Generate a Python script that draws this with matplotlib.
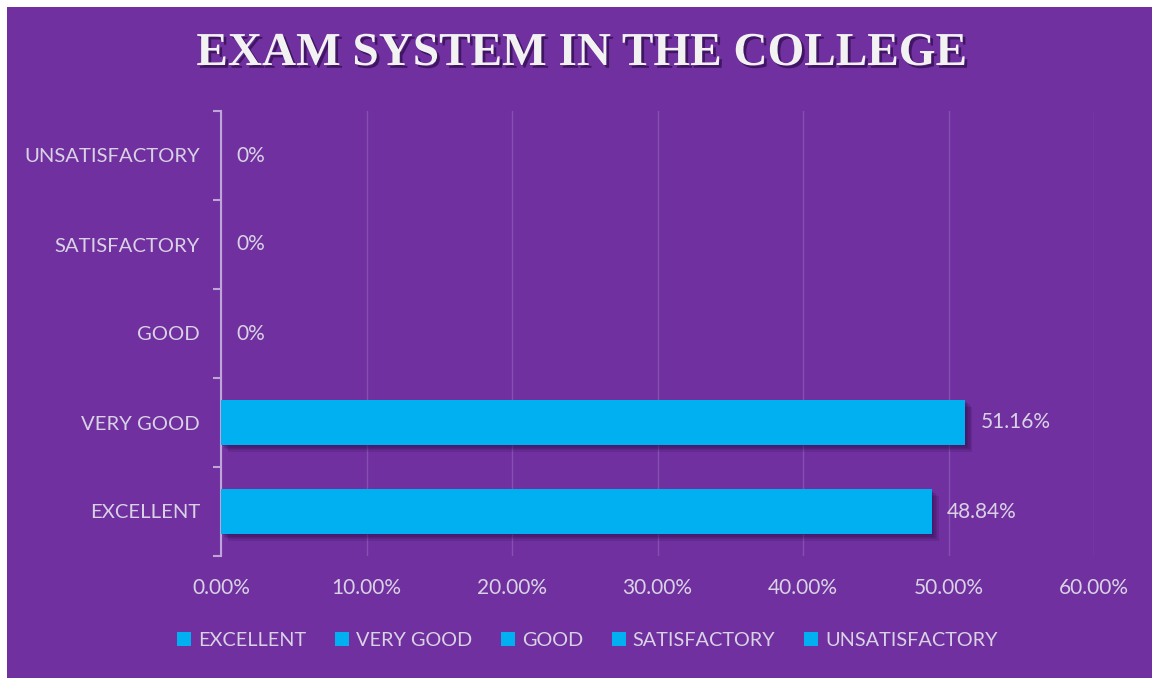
import matplotlib.pyplot as plt
import matplotlib.patheffects as pe
from matplotlib.patches import Rectangle, Patch
from matplotlib.ticker import FixedLocator, FuncFormatter

# data
categories = ["EXCELLENT", "VERY GOOD", "GOOD", "SATISFACTORY", "UNSATISFACTORY"]
values = [48.84, 51.16, 0, 0, 0]
value_labels = ["48.84%", "51.16%", "0%", "0%", "0%"]
x_ticks = [0, 10, 20, 30, 40, 50, 60]

PURPLE = "#7030A0"
BAR = "#00B0F0"
TEXT = "#D9D2E4"
AXIS = "#BFA6D8"
GRID = "#8650B3"

plt.rcParams["font.family"] = ["Lato", "DejaVu Sans"]

fig = plt.figure(figsize=(11.52, 6.78), dpi=100)
fig.patch.set_facecolor("white")
fig.patches.append(Rectangle((7 / 1152, 0), 1, 1 - 7 / 678, transform=fig.transFigure,
                             facecolor=PURPLE, edgecolor="none", zorder=-10))

ax = fig.add_axes([221 / 1152, 1 - 556 / 678, (1094 - 221) / 1152, (556 - 111) / 678])
ax.set_facecolor("none")

ypos = list(range(len(categories)))
bars = ax.barh(ypos, values, height=0.5, color=BAR, zorder=3)
# soft shadow, built up from a few offset copies
shadow = [pe.SimplePatchShadow(offset=(k, -k), shadow_rgbFace="#240840", alpha=0.14)
          for k in (1, 2, 3, 4, 5)]
for b in bars:
    b.set_path_effects(shadow + [pe.Normal()])

ax.bar_label(bars, labels=value_labels, padding=11, color=TEXT, fontsize=15)

ax.set_xlim(0, 60)
ax.set_ylim(-0.5, len(categories) - 0.5)
ax.set_xticks(x_ticks)
ax.xaxis.set_major_formatter(FuncFormatter(lambda v, p: f"{v:.2f}%"))
ax.tick_params(axis="x", length=0, pad=16, labelsize=15, labelcolor=TEXT)

ax.set_yticks(ypos)
ax.set_yticklabels(categories)
ax.yaxis.set_minor_locator(FixedLocator([i - 0.5 for i in range(len(categories) + 1)]))
ax.tick_params(axis="y", which="major", length=0, pad=15, labelsize=14.6, labelcolor=TEXT)
ax.tick_params(axis="y", which="minor", length=6, width=1.5, color=AXIS, direction="out")

ax.grid(axis="x", color=GRID, linewidth=1, zorder=0)
for s in ["top", "right", "bottom"]:
    ax.spines[s].set_visible(False)
ax.spines["left"].set_color(AXIS)
ax.spines["left"].set_linewidth(1.5)

fig.text(0.505, 1 - 54 / 678, "EXAM SYSTEM IN THE COLLEGE", ha="center", va="center",
         fontsize=34, fontweight="bold", color="#F2F2F2", family="Liberation Serif",
         path_effects=[pe.SimplePatchShadow(offset=(2, -2), shadow_rgbFace="#1a0030", alpha=0.55),
                       pe.Normal()])

handles = [Patch(facecolor=BAR, edgecolor="none") for _ in categories]
leg = fig.legend(handles, categories, loc="center", bbox_to_anchor=(0.51, 1 - 640 / 678),
                 ncol=5, frameon=False, fontsize=14.3, labelcolor=TEXT,
                 handlelength=0.7, handleheight=0.7, handletextpad=0.35, columnspacing=1.45)

fig.savefig("out.png", dpi=100, facecolor=fig.get_facecolor())
